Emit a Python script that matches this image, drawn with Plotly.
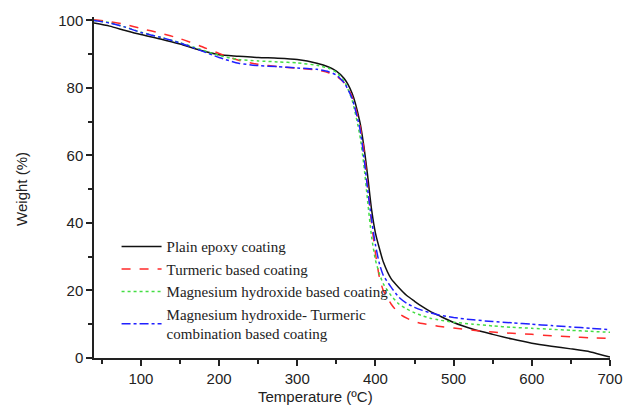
import plotly.graph_objects as go

temperature = [40, 60, 80, 100, 125, 150, 175, 200, 225, 250, 275, 300, 325, 340, 350, 360, 370,
               380, 385, 390, 395, 400, 405, 410, 420, 430, 440, 450, 460, 470, 480, 500, 525,
               550, 575, 600, 625, 650, 675, 700]

plain_epoxy = [99.2, 98.3, 97.0, 95.8, 94.5, 93.0, 91.2, 89.8, 89.4, 89.0, 88.8, 88.4, 87.3, 86.2,
               85.0, 82.8, 78.5, 70.0, 63.0, 54.0, 44.0, 37.0, 32.5, 28.5, 23.5, 20.8, 18.5, 16.8,
               15.2, 13.8, 12.7, 10.5, 8.5, 7.0, 5.6, 4.4, 3.5, 2.7, 1.8, 0.3]

turmeric = [100.2, 99.6, 98.8, 97.6, 96.2, 94.6, 92.5, 90.2, 88.2, 87.0, 86.3, 85.8, 85.3, 84.5,
            83.5, 81.5, 77.5, 69.0, 62.0, 51.0, 40.0, 31.0, 24.0, 20.0, 16.0, 13.2, 11.8, 10.8,
            10.2, 9.8, 9.4, 8.9, 8.2, 7.7, 7.3, 7.0, 6.6, 6.3, 6.0, 5.8]

mg_hydroxide = [100.0, 99.3, 98.0, 96.5, 95.0, 93.4, 91.5, 89.6, 88.4, 88.0, 87.7, 87.4, 86.7, 85.8,
                84.6, 82.0, 76.5, 66.0, 57.5, 46.5, 36.0, 29.0, 25.0, 22.0, 18.5, 16.0, 14.5, 13.4,
                12.5, 11.8, 11.3, 10.6, 10.0, 9.5, 9.1, 8.8, 8.5, 8.2, 7.9, 7.6]

combination = [100.0, 99.2, 98.0, 96.4, 95.0, 93.3, 91.2, 89.0, 87.3, 86.6, 86.3, 85.9, 85.5, 84.8,
               83.8, 81.5, 77.0, 68.0, 60.0, 50.0, 41.0, 33.5, 28.0, 24.5, 21.0, 18.0, 16.2, 15.0,
               14.1, 13.4, 12.8, 12.0, 11.3, 10.8, 10.4, 10.0, 9.6, 9.2, 8.8, 8.4]

series = [
    ("Plain epoxy coating", plain_epoxy, "#111111", "solid"),
    ("Turmeric based coating", turmeric, "#ff2a2a", "dash"),
    ("Magnesium hydroxide based coating", mg_hydroxide, "#44dd44", "dot"),
    ("Magnesium hydroxide- Turmeric<br>combination based coating", combination, "#2020ff", "dashdot"),
]

fig = go.Figure()
for i, (name, vals, color, dash) in enumerate(series):
    fig.add_trace(go.Scatter(
        x=temperature, y=vals, mode="lines", name=name, legendgroup=f"g{i}",
        line=dict(color=color, width=1.5, dash=dash, shape="spline", smoothing=0.6),
    ))

sans = "Liberation Sans, Arial, sans-serif"
axis_font = dict(family=sans, size=15, color="#222")

L, R, T, B = 94, 15, 16, 48
pw, ph = 635 - L - R, 406 - T - B

fig.update_layout(
    width=635, height=406,
    margin=dict(l=L, r=R, t=T, b=B),
    paper_bgcolor="white", plot_bgcolor="white",
    showlegend=True,
    legend=dict(
        x=(117 - L) / pw, y=(358 - 230) / ph, xanchor="left", yanchor="top",
        font=dict(family="Liberation Serif, Times New Roman, serif", size=15, color="#222"),
        bgcolor="rgba(0,0,0,0)", traceorder="grouped", tracegroupgap=0,
        itemwidth=40,
    ),
    annotations=[
        dict(text="Temperature (ºC)", x=(320 - L) / pw, y=-(397 - 358) / ph,
             xref="paper", yref="paper", xanchor="center", yanchor="middle",
             showarrow=False, font=dict(family=sans, size=15, color="#222")),
        dict(text="Weight (%)", x=-(L - 20) / pw, y=(358 - 188) / ph, textangle=-90,
             xref="paper", yref="paper", xanchor="center", yanchor="middle",
             showarrow=False, font=dict(family=sans, size=15, color="#222")),
    ],
)

fig.update_xaxes(
    range=[40, 700], tickvals=[100, 200, 300, 400, 500, 600, 700],
    showline=True, linecolor="#222", linewidth=1.5, showgrid=False, zeroline=False,
    ticks="outside", ticklen=6, tickwidth=1.5, tickcolor="#222",
    minor=dict(tickvals=[50, 150, 250, 350, 450, 550, 650], ticks="outside", ticklen=4, tickwidth=1.5, tickcolor="#222"),
    tickfont=axis_font,
)
fig.update_yaxes(
    range=[0, 101], tickvals=[0, 20, 40, 60, 80, 100],
    showline=True, linecolor="#222", linewidth=1.5, showgrid=False, zeroline=False,
    ticks="outside", ticklen=6, tickwidth=1.5, tickcolor="#222",
    minor=dict(tickvals=[10, 30, 50, 70, 90], ticks="outside", ticklen=4, tickwidth=1.5, tickcolor="#222"),
    tickfont=axis_font,
)

fig.write_html("out.html")
